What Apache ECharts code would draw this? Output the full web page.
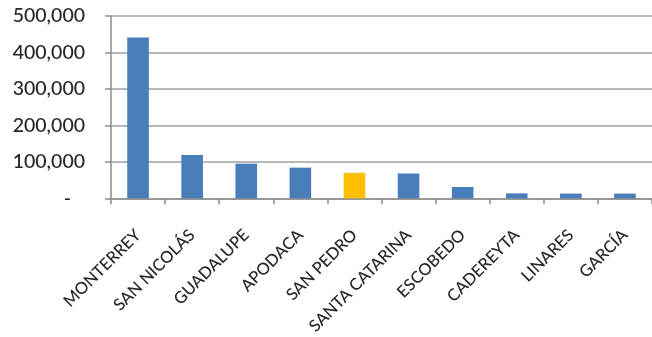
<!DOCTYPE html>
<html>
<head>
<meta charset="utf-8">
<script src="https://cdn.jsdelivr.net/npm/echarts@6/dist/echarts.min.js"></script>
<style>
  html, body { margin: 0; padding: 0; background: #fff; }
  #chart { width: 652px; height: 337px; }
</style>
</head>
<body>
<div id="chart"></div>
<script>
// Municipalities of the Monterrey area and their totals
const municipios = ['MONTERREY', 'SAN NICOLÁS', 'GUADALUPE', 'APODACA', 'SAN PEDRO',
  'SANTA CATARINA', 'ESCOBEDO', 'CADEREYTA', 'LINARES', 'GARCÍA'];
const valores = [441000, 119000, 95000, 84000, 70000, 68000, 31000, 13500, 13000, 13000];
const resaltado = 'SAN PEDRO';
const yTicks = [0, 100000, 200000, 300000, 400000, 500000];

const BLUE = '#4a7ebb';
const GOLD = '#ffc000';
const FONT = 'Lato, "Open Sans", sans-serif';
const TEXT = '#262626';

const chart = echarts.init(document.getElementById('chart'), null, { renderer: 'canvas' });

chart.setOption({
  animation: false,
  backgroundColor: '#ffffff',
  grid: { left: 111, top: 16, width: 544, height: 184, containLabel: false },
  xAxis: {
    type: 'category',
    data: municipios,
    axisLine: { lineStyle: { color: '#8c8c8c', width: 1.5 } },
    axisTick: { show: true, length: 6, lineStyle: { color: '#8c8c8c', width: 1.5 } },
    axisLabel: {
      interval: 0,
      rotate: 45,
      margin: 34,
      fontFamily: FONT,
      fontSize: 16.5,
      fontWeight: 500,
      color: TEXT
    }
  },
  yAxis: {
    type: 'value',
    min: yTicks[0],
    max: yTicks[yTicks.length - 1],
    interval: yTicks[1] - yTicks[0],
    axisLine: { show: true, lineStyle: { color: '#8c8c8c', width: 1.5 } },
    axisTick: { show: true, length: 6, lineStyle: { color: '#8c8c8c', width: 1.5 } },
    splitLine: { lineStyle: { color: '#b8b8b8', width: 2 } },
    axisLabel: {
      margin: 26,
      fontFamily: FONT,
      fontSize: 19.5,
      fontWeight: 500,
      color: TEXT,
      formatter: v => v === 0 ? '{d|-}' : v.toLocaleString('en-US'),
      rich: {
        d: { fontFamily: FONT, fontSize: 19.5, fontWeight: 500, color: TEXT, padding: [0, 14, 0, 0] }
      }
    }
  },
  series: [{
    type: 'bar',
    barWidth: '40%',
    data: valores.map((v, i) => ({
      value: v,
      itemStyle: { color: municipios[i] === resaltado ? GOLD : BLUE }
    }))
  }]
});
</script>
</body>
</html>
